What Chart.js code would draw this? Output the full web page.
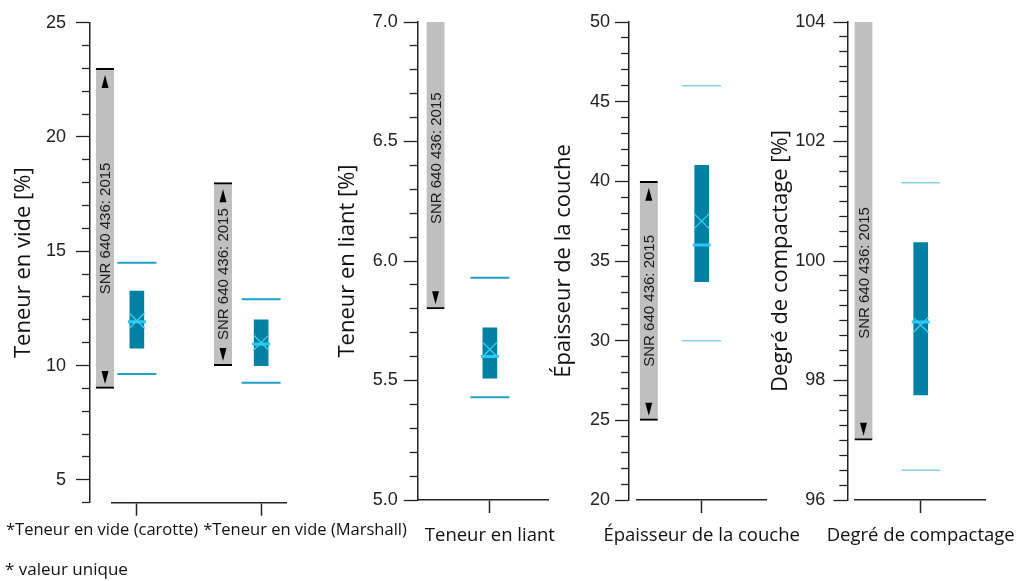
<!DOCTYPE html>
<html lang="fr">
<head>
<meta charset="utf-8">
<title>Teneur en vide, liant, épaisseur, compactage</title>
<script src="https://cdn.jsdelivr.net/npm/chart.js@4.4.1/dist/chart.umd.min.js"></script>
<style>
  html, body { margin: 0; padding: 0; background: #fff; }
  #wrap { position: relative; width: 1023px; height: 581px; overflow: hidden; }
  #wrap canvas { position: absolute; left: 0; top: 0; }
  #note { position: absolute; left: 5px; top: 557px; font: 17px "Open Sans", sans-serif; color: #111; }
</style>
</head>
<body>
<div id="wrap">
  <canvas id="c0" width="1023" height="581"></canvas>
  <canvas id="c1" width="1023" height="581"></canvas>
  <canvas id="c2" width="1023" height="581"></canvas>
  <canvas id="c3" width="1023" height="581"></canvas>
  <div id="note">* valeur unique</div>
</div>
<script>
// values per category (box = q1..q3, whiskers = min/max)
const categories = ['*Teneur en vide (carotte)', '*Teneur en vide (Marshall)', 'Teneur en liant', 'Épaisseur de la couche', 'Degré de compactage'];
const minValues    = [9.63, 9.25, 5.43, 30.0, 96.50];
const q1Values     = [10.76, 10.00, 5.51, 33.7, 97.76];
const medianValues = [11.92, 10.94, 5.60, 36.0, 98.98];
const meanValues   = [11.96, 11.00, 5.63, 37.5, 98.93];
const q3Values     = [13.26, 12.00, 5.72, 41.0, 100.31];
const maxValues    = [14.50, 12.90, 5.93, 46.0, 101.31];

// SNR 640 436: 2015 limits (null = no upper limit)
const normLow  = [9, 10, 5.8, 25, 97];
const normHigh = [23, 18, null, 40, null];
const normText = 'SNR 640 436: 2015';

// one panel per y axis
const axisTitles = ['Teneur en vide [%]', 'Teneur en liant [%]', 'Épaisseur de la couche', 'Degré de compactage [%]'];
const panelCats  = [[0, 1], [2], [3], [4]];
const yMinValues = [4, 5, 20, 96];
const yMaxValues = [25, 7, 50, 104];
const yMajorStep = [5, 0.5, 5, 2];
const yMinorStep = [1, 0.1, 1, 0.25];
const yDecimals  = [0, 1, 0, 0];

// placement of each panel on the page
const layout = [
  { left: 0, axisX: 90, gap: 22, right: 286, top: 22.7, bottom: 502.7, xMin: 0.8, xMax: 2.2,
    normShift: [-0.256, -0.307], labelShift: [-0.28, 0.353], textAt: [null, null],
    labelSize: 16.5, labelPad: 4.4, tickPad: 10, titlePad: 10.8, whisker: '#22a0c9', whiskerWidth: 2 },
  { left: 330, axisX: 417.7, gap: 0, right: 548, top: 22, bottom: 500, xMin: 0.28, xMax: 1.58,
    normShift: [-0.542], labelShift: [0], textAt: [6.43],
    labelSize: 18.5, labelPad: 11.9, tickPad: 6, titlePad: 4.8, whisker: '#22a0c9', whiskerWidth: 2 },
  { left: 545, axisX: 629, gap: 7.7, right: 766.7, top: 22, bottom: 500, xMin: 0.35, xMax: 1.65,
    normShift: [-0.529], labelShift: [0], textAt: [null],
    labelSize: 18.5, labelPad: 11.9, tickPad: 5, titlePad: 5.8, whisker: '#86d1ec', whiskerWidth: 1.5 },
  { left: 760, axisX: 847.3, gap: 7.7, right: 985, top: 22, bottom: 500, xMin: 0.343, xMax: 1.643,
    normShift: [-0.572], labelShift: [0], textAt: [99.8],
    labelSize: 18.5, labelPad: 11.9, tickPad: 8, titlePad: 7.8, whisker: '#86d1ec', whiskerWidth: 1.5 }
];

Chart.defaults.font.family = '"Liberation Sans", Arial, sans-serif';
Chart.defaults.animation = false;

const X_HEIGHT = 50;

function isMajor(v, step) {
  const r = v / step;
  return Math.abs(r - Math.round(r)) < 1e-6;
}

function arrow(ctx, x, y, dir) {
  // dir -1 = pointing up, 1 = pointing down
  ctx.beginPath();
  ctx.moveTo(x, y + dir * 6.5);
  ctx.lineTo(x - 3.5, y - dir * 6.5);
  ctx.lineTo(x + 3.5, y - dir * 6.5);
  ctx.closePath();
  ctx.fill();
}

// arrows + rotated norm text on the grey bars
function normDecor(cats, L) {
  return {
    id: 'normDecor',
    afterDatasetsDraw(chart) {
      const meta = chart.getDatasetMeta(0);
      const ctx = chart.ctx;
      meta.data.forEach((bar, i) => {
        const p = bar.getProps(['x', 'y', 'base'], true);
        const top = Math.min(p.y, p.base);
        const bottom = Math.max(p.y, p.base);
        const c = cats[i];
        ctx.save();
        ctx.fillStyle = '#000';
        if (normHigh[c] !== null) arrow(ctx, p.x, top + 13, -1);
        arrow(ctx, p.x, bottom - 11, 1);
        const at = L.textAt[i];
        const cy = at == null ? (top + bottom) / 2 : chart.scales.y.getPixelForValue(at);
        ctx.translate(p.x + 1, cy);
        ctx.rotate(-Math.PI / 2);
        ctx.font = '15px "Liberation Sans", Arial, sans-serif';
        ctx.fillStyle = '#1a1a1a';
        ctx.textAlign = 'center';
        ctx.textBaseline = 'middle';
        ctx.fillText(normText, 0, 0);
        ctx.restore();
      });
    }
  };
}

panelCats.forEach((cats, k) => {
  const L = layout[k];
  const yMax = yMaxValues[k];
  const pos = cats.map((c, j) => j + 1);

  const xTicks = [];
  cats.forEach((c, j) => {
    const s = L.labelShift[j];
    if (s) {
      xTicks.push({ value: pos[j], name: '', mark: true });
      xTicks.push({ value: pos[j] + s, name: categories[c], mark: false });
    } else {
      xTicks.push({ value: pos[j], name: categories[c], mark: true });
    }
  });
  xTicks.sort((a, b) => a.value - b.value);

  const datasets = [
    {
      type: 'bar', label: 'norme', order: 5, grouped: false, clip: false,
      data: cats.map((c, j) => ({ x: pos[j] + L.normShift[j], y: [normLow[c], normHigh[c] === null ? yMax : normHigh[c]] })),
      backgroundColor: '#bfbfbf', borderColor: '#000', borderSkipped: false, barThickness: 18,
      borderWidth: ctx => ({ top: normHigh[cats[ctx.dataIndex]] === null ? 0 : 2, bottom: 2, left: 0, right: 0 })
    },
    {
      type: 'bar', label: 'boîte', order: 4, grouped: false,
      data: cats.map((c, j) => ({ x: pos[j], y: [q1Values[c], q3Values[c]] })),
      backgroundColor: '#0081a3', borderWidth: 0, barThickness: 14
    },
    {
      type: 'scatter', label: 'min/max', order: 3,
      data: cats.map((c, j) => ({ x: pos[j], y: maxValues[c] })).concat(cats.map((c, j) => ({ x: pos[j], y: minValues[c] }))),
      pointStyle: 'line', pointRadius: 19.5, pointHoverRadius: 19.5,
      pointBorderColor: L.whisker, pointBorderWidth: L.whiskerWidth
    },
    {
      type: 'scatter', label: 'médiane', order: 2,
      data: cats.map((c, j) => ({ x: pos[j], y: medianValues[c] })),
      pointStyle: 'line', pointRadius: 9, pointHoverRadius: 9,
      pointBorderColor: '#2cc8f2', pointBorderWidth: 3
    },
    {
      type: 'scatter', label: 'moyenne', order: 1,
      data: cats.map((c, j) => ({ x: pos[j], y: meanValues[c] })),
      pointStyle: 'crossRot', pointRadius: 11, pointHoverRadius: 11,
      pointBorderColor: '#3dd0fb', pointBorderWidth: 1.2
    }
  ];

  const scales = {
    y: {
      type: 'linear', position: 'left', weight: 1,
      min: yMinValues[k], max: yMax, bounds: 'data',
      afterFit: s => { s.width = L.axisX - L.left; s.paddingTop = 0; s.paddingBottom = 0; },
      title: {
        display: true, text: axisTitles[k], color: '#111',
        font: { family: '"Open Sans", sans-serif', size: 22 },
        padding: { top: L.titlePad, bottom: 0 }
      },
      ticks: {
        stepSize: yMinorStep[k], autoSkip: false, padding: L.tickPad, color: '#222',
        font: { size: 18 },
        callback: v => isMajor(v, yMajorStep[k]) ? v.toFixed(yDecimals[k]) : ''
      },
      grid: {
        drawOnChartArea: false, tickLength: 14, tickWidth: 1.3, tickColor: '#222',
        // minor ticks: only the 8px next to the axis line
        tickBorderDash: ctx => (ctx.tick && isMajor(ctx.tick.value, yMajorStep[k])) ? [] : [8, 6],
        tickBorderDashOffset: ctx => (ctx.tick && isMajor(ctx.tick.value, yMajorStep[k])) ? 0 : 8
      },
      border: { display: true, color: '#222', width: 1.5 }
    },
    x: {
      type: 'linear', position: 'bottom', min: L.xMin, max: L.xMax, bounds: 'data', offset: false,
      afterBuildTicks: s => { s.ticks = xTicks.map(t => Object.assign({}, t)); },
      afterFit: s => { s.height = X_HEIGHT; s.paddingLeft = 0; s.paddingRight = 0; },
      ticks: {
        autoSkip: false, maxRotation: 0, minRotation: 0, padding: L.labelPad, color: '#111',
        font: { family: '"Open Sans", sans-serif', size: L.labelSize },
        callback: (v, i, t) => t[i].name
      },
      grid: {
        offset: false, drawOnChartArea: false, tickLength: 13, tickWidth: 1.5,
        tickColor: ctx => (ctx.tick && ctx.tick.mark) ? '#222' : 'rgba(0,0,0,0)'
      },
      border: { display: true, color: '#222', width: 1.5 }
    }
  };
  if (L.gap) {
    // empty axis that leaves the small gap between y axis and x axis line
    scales.gap = {
      type: 'linear', position: 'left', weight: 0, display: true,
      grid: { display: false }, border: { display: false }, ticks: { display: false },
      afterFit: s => { s.width = L.gap; s.paddingTop = 0; s.paddingBottom = 0; }
    };
  }

  new Chart(document.getElementById('c' + k), {
    type: 'bar',
    data: { datasets: datasets.map(d => Object.assign({ xAxisID: 'x', yAxisID: 'y' }, d)) },
    options: {
      responsive: false,
      events: [],
      layout: {
        padding: { left: L.left, top: L.top, right: 1023 - L.right, bottom: 581 - L.bottom - X_HEIGHT }
      },
      plugins: { legend: { display: false }, tooltip: { enabled: false } },
      scales: scales
    },
    plugins: [normDecor(cats, L)]
  });
});
</script>
</body>
</html>
